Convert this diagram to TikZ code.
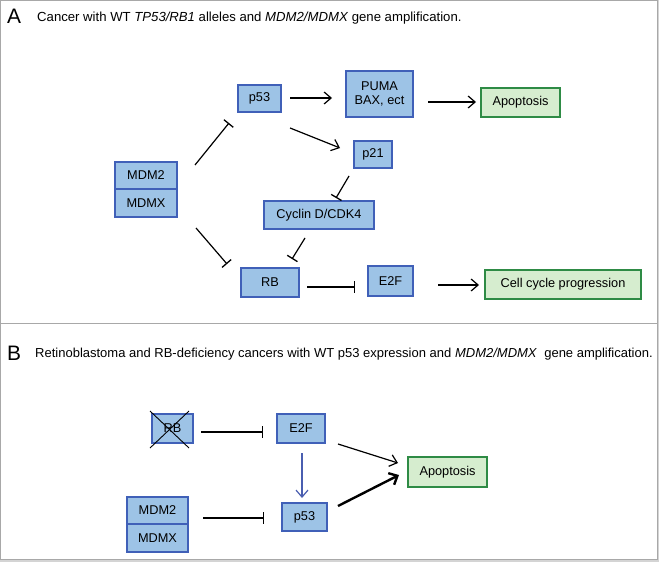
\documentclass[tikz,border=0pt]{standalone}
\usepackage{fontspec}
\setmainfont{Liberation Sans}
\usetikzlibrary{arrows.meta}
\definecolor{bfill}{HTML}{9DC3E6}
\definecolor{bdraw}{HTML}{4060B8}
\definecolor{gfill}{HTML}{D6EDCF}
\definecolor{gdraw}{HTML}{2E8B45}
\definecolor{frame}{HTML}{A8A8A8}
\definecolor{strip}{HTML}{D4D4D4}
\definecolor{barrow}{HTML}{4A5EB0}
\tikzset{
  bbox/.style={draw=bdraw, fill=bfill, line width=1.4bp, inner sep=0pt, font=\fontsize{12.8}{14.5}\selectfont, align=center},
  gbox/.style={draw=gdraw, fill=gfill, line width=1.4bp, inner sep=0pt, font=\fontsize{12.8}{14.5}\selectfont, align=center},
  act/.style={line width=1.2bp, -{Straight Barb[length=7bp,width=12bp]}},
  inh/.style={line width=1.2bp, -{Bar[width=12bp,line width=1.3bp]}},
  ttl/.style={anchor=base west, inner sep=0pt, font=\fontsize{13.2}{15}\selectfont},
  panel/.style={anchor=base west, inner sep=0pt, font=\fontsize{21}{24}\selectfont},
}
\begin{document}
\begin{tikzpicture}[x=1bp,y=-1bp]
\useasboundingbox (0,0) rectangle (659,562);
\fill[white] (0,0) rectangle (659,562);
\fill[strip] (657,0) rectangle (659,562);
\fill[strip] (0,559) rectangle (659,562);
\draw[frame, line width=1bp] (0.5,0.5) rectangle (657,559);
\draw[frame, line width=1bp] (0.5,323) -- (657,323);

% Panel A
\node[panel] (la) at (7,24) {A};
\node[ttl] (ta) at (37,22) {Cancer with WT \textit{TP53/RB1} alleles and \textit{MDM2/MDMX} gene amplification.};

\node[bbox, minimum width=43bp, minimum height=27bp] (p53a) at (259.5,98.5) {p53};
\node[bbox, minimum width=67bp, minimum height=46bp] (puma) at (379.5,94) {PUMA\\BAX, ect};
\node[gbox, minimum width=79bp, minimum height=29bp] (apoa) at (520.5,102.5) {Apoptosis};
\node[bbox, minimum width=38bp, minimum height=27bp] (p21) at (373,154.5) {p21};
\node[bbox, minimum width=62bp, minimum height=27bp] (mdm2a) at (146,175.5) {MDM2};
\node[bbox, minimum width=62bp, minimum height=28bp] (mdmxa) at (146,203) {MDMX};
\node[bbox, minimum width=110bp, minimum height=28bp] (cyc) at (319,215) {Cyclin D/CDK4};
\node[bbox, minimum width=58bp, minimum height=29bp] (rba) at (270,282.5) {RB};
\node[bbox, minimum width=45bp, minimum height=30bp] (e2fa) at (390.5,281) {E2F};
\node[gbox, minimum width=156bp, minimum height=29bp] (ccp) at (563,284.5) {Cell cycle progression};

\coordinate (a1s) at (195,165); \coordinate (a1e) at (229,123);
\draw[inh] (a1s) -- (a1e);
\coordinate (a2s) at (290,98); \coordinate (a2e) at (332,98);
\draw[act] (a2s) -- (a2e);
\coordinate (a3s) at (290,128); \coordinate (a3e) at (340,148);
\draw[act] (a3s) -- (a3e);
\coordinate (a4s) at (428,102); \coordinate (a4e) at (476,102);
\draw[act] (a4s) -- (a4e);
\coordinate (a5s) at (349,176); \coordinate (a5e) at (336,198);
\draw[inh] (a5s) -- (a5e);
\coordinate (a6s) at (305,238); \coordinate (a6e) at (292,259);
\draw[inh] (a6s) -- (a6e);
\coordinate (a7s) at (196,228); \coordinate (a7e) at (227,264);
\draw[inh] (a7s) -- (a7e);
\coordinate (a8s) at (307,287); \coordinate (a8e) at (355,287);
\draw[inh] (a8s) -- (a8e);
\coordinate (a9s) at (438,285); \coordinate (a9e) at (479,285);
\draw[act] (a9s) -- (a9e);

% Panel B
\node[panel] (lb) at (7,360) {B};
\node[ttl, font=\fontsize{13.05}{15}\selectfont] (tb) at (35,357) {Retinoblastoma and RB-deficiency cancers with WT p53 expression and \textit{MDM2/MDMX}\ \ gene amplification.};

\node[bbox, minimum width=41bp, minimum height=29bp] (rbb) at (172.5,428.5) {RB};
\coordinate (x1) at (150,411); \coordinate (x2) at (189,448);
\coordinate (x3) at (189,411); \coordinate (x4) at (150,448);
\draw[line width=0.9bp] (x1) -- (x2);
\draw[line width=0.9bp] (x3) -- (x4);
\node[bbox, minimum width=48bp, minimum height=29bp] (e2fb) at (301,428.5) {E2F};
\node[gbox, minimum width=79bp, minimum height=30bp] (apob) at (447.5,472) {Apoptosis};
\node[bbox, minimum width=61bp, minimum height=27bp] (mdm2b) at (157.5,510.5) {MDM2};
\node[bbox, minimum width=61bp, minimum height=28bp] (mdmxb) at (157.5,538) {MDMX};
\node[bbox, minimum width=45bp, minimum height=28bp] (p53b) at (304.5,517) {p53};

\coordinate (b1s) at (201,432); \coordinate (b1e) at (263,432);
\draw[inh] (b1s) -- (b1e);
\coordinate (b2s) at (302,453); \coordinate (b2e) at (302,498);
\draw[act, draw=barrow] (b2s) -- (b2e);
\coordinate (b3s) at (338,444); \coordinate (b3e) at (398,463);
\draw[act] (b3s) -- (b3e);
\coordinate (b4s) at (338,506); \coordinate (b4e) at (399,475);
\draw[line width=2.4bp, -{Straight Barb[length=7bp,width=13bp]}] (b4s) -- (b4e);
\coordinate (b5s) at (203,518); \coordinate (b5e) at (264,518);
\draw[inh] (b5s) -- (b5e);
\end{tikzpicture}
\end{document}
